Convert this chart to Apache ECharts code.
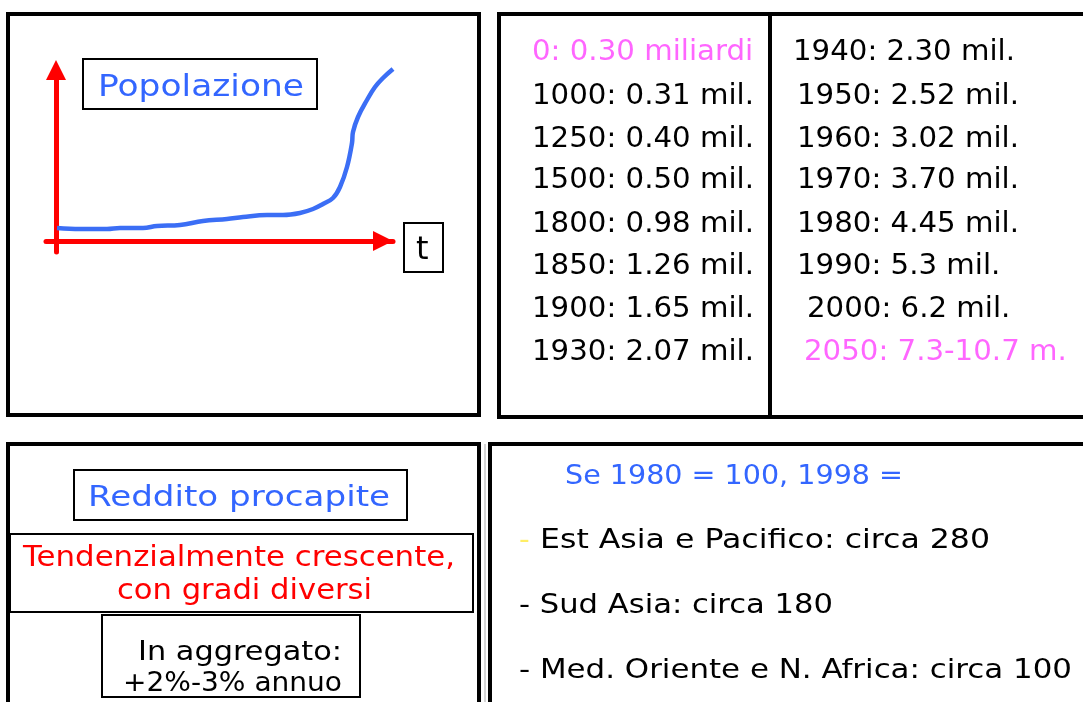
<!DOCTYPE html>
<html>
<head>
<meta charset="utf-8">
<script src="https://cdn.jsdelivr.net/npm/echarts@6/dist/echarts.min.js"></script>
<style>
    html, body { margin: 0; padding: 0; background: #fff; }
    #main { width: 1083px; height: 702px; }
</style>
</head>
<body>
<div id="main"></div>
<script>
// sketch of the population curve (t, population), arbitrary units
var curveT   = [1, 24, 51, 64, 87, 101, 124, 147, 171, 187, 211, 227, 244, 257, 267, 277, 284, 291, 296, 297, 302, 311, 319, 327, 337];
var curvePop = [13, 12, 12, 13, 13, 15, 16, 20, 22, 24, 26, 26, 28, 32, 37, 43, 54, 74, 98, 109, 124, 141, 154, 163, 172];

// population table
var popLeft  = ['0: 0.30 miliardi', '1000: 0.31 mil.', '1250: 0.40 mil.', '1500: 0.50 mil.',
                '1800: 0.98 mil.', '1850: 1.26 mil.', '1900: 1.65 mil.', '1930: 2.07 mil.'];
var popRight = ['1940: 2.30 mil.', '1950: 2.52 mil.', '1960: 3.02 mil.', '1970: 3.70 mil.',
                '1980: 4.45 mil.', '1990: 5.3 mil.', '2000: 6.2 mil.', '2050: 7.3-10.7 m.'];

// income panel
var redditoTitle = 'Reddito procapite';
var trendLines   = ['Tendenzialmente crescente,', 'con gradi diversi'];
var aggLines     = ['In aggregato:', '+2%-3% annuo'];
var indexTitle   = 'Se 1980 = 100, 1998 =';
var regionLines  = ['Est Asia e Pacifico: circa 280', '- Sud Asia: circa 180', '- Med. Oriente e N. Africa: circa 100'];

var FONT = '"DejaVu Sans", Verdana, sans-serif';
var BLUE = '#3366ff';
var PINK = '#ff66ff';

var measureCtx = document.createElement('canvas').getContext('2d');
function textScale(str, size, width)
{
    measureCtx.font = size + 'px ' + FONT;
    return width / measureCtx.measureText(str).width;
}

function label(str, x, y, size, color, scale)
{
    return {
        type: 'text',
        x: x,
        y: y,
        scaleX: scale,
        z: 10,
        style: {
            text: str,
            fill: color,
            font: size + 'px ' + FONT,
            align: 'left',
            verticalAlign: 'middle',
            textAlign: 'left',
            textVerticalAlign: 'middle'
        }
    };
}

function box(x, y, w, h, lw)
{
    return {
        type: 'rect',
        z: 5,
        shape: { x: x, y: y, width: w, height: h },
        style: { fill: 'none', stroke: '#000', lineWidth: lw }
    };
}

var elements = [];

// panels
elements.push(box(8, 14, 471, 401, 4));
elements.push(box(499, 14, 700, 403, 4));
elements.push({ type: 'line', z: 5, shape: { x1: 770, y1: 14, x2: 770, y2: 417 }, style: { stroke: '#000', lineWidth: 4 } });
elements.push(box(8, 444, 471, 400, 4));
elements.push({ type: 'line', z: 4, shape: { x1: 485, y1: 444, x2: 485, y2: 710 }, style: { stroke: '#aaa', lineWidth: 1 } });
elements.push(box(490, 444, 700, 400, 4));

// curve panel labels
elements.push(box(83, 59, 234, 50, 2));
elements.push(label('Popolazione', 98, 88, 30, BLUE, textScale('Popolazione', 30, 206)));
elements.push(box(404, 223, 39, 49, 2));
elements.push(label('t', 416, 251, 32, '#000', 1.0));

// table
var rowY = [53, 97, 140, 181, 225, 267, 310, 353];
var rightX = [793, 797, 797, 797, 797, 797, 807, 804];
var tableScale = textScale('1000: 0.31 mil.', 28, 222);
popLeft.forEach(function(s, i) {
    elements.push(label(s, 532, rowY[i], 28, i === 0 ? PINK : '#000', tableScale));
});
popRight.forEach(function(s, i) {
    elements.push(label(s, rightX[i], rowY[i], 28, i === popRight.length - 1 ? PINK : '#000', tableScale));
});

// income panel
elements.push(box(74, 470, 333, 50, 2));
elements.push(label(redditoTitle, 88, 499, 28, BLUE, textScale(redditoTitle, 28, 302)));
elements.push(box(10, 534, 463, 78, 2));
elements.push(label(trendLines[0], 23, 559, 28, '#ff0000', textScale(trendLines[0], 28, 432)));
elements.push(label(trendLines[1], 117, 592, 28, '#ff0000', textScale(trendLines[1], 28, 255)));
elements.push(box(102, 615, 258, 82, 2));
elements.push(label(aggLines[0], 138, 653, 27, '#000', textScale(aggLines[0], 27, 204)));
elements.push(label(aggLines[1], 123, 684, 27, '#000', textScale(aggLines[1], 27, 219)));

elements.push(label(indexTitle, 565, 477, 27, BLUE, textScale(indexTitle, 27, 338)));
elements.push(label('-', 519, 541, 27, '#ffee66', 1.1));
elements.push(label(regionLines[0], 540, 541, 27, '#000', textScale(regionLines[0], 27, 450)));
elements.push(label(regionLines[1], 519, 606, 27, '#000', textScale(regionLines[1], 27, 314)));
elements.push(label(regionLines[2], 519, 671, 27, '#000', textScale(regionLines[2], 27, 553)));

var curveData = curveT.map(function(t, i) { return [t, curvePop[i]]; });

var option = {
    backgroundColor: '#fff',
    animation: false,
    grid: { left: 46, top: 68, width: 347, height: 184 },
    xAxis: {
        type: 'value',
        min: -10,
        max: 337,
        axisLine: {
            onZero: true,
            symbol: ['none', 'triangle'],
            symbolSize: [20, 20],
            symbolOffset: [0, -10],
            lineStyle: { color: '#ff0000', width: 5 }
        },
        axisTick: { show: false },
        axisLabel: { show: false },
        splitLine: { show: false }
    },
    yAxis: {
        type: 'value',
        min: -11,
        max: 173,
        axisLine: {
            show: true,
            onZero: true,
            symbol: ['none', 'triangle'],
            symbolSize: [20, 20],
            symbolOffset: [0, -2],
            lineStyle: { color: '#ff0000', width: 5 }
        },
        axisTick: { show: false },
        axisLabel: { show: false },
        splitLine: { show: false }
    },
    series: [
        {
            type: 'line',
            data: curveData,
            smooth: 0.4,
            showSymbol: false,
            clip: false,
            z: 3,
            lineStyle: { color: '#3b6ef5', width: 4.5 }
        }
    ],
    graphic: { elements: elements }
};

var myChart = echarts.init(document.getElementById('main'));
myChart.setOption(option);
</script>
</body>
</html>
